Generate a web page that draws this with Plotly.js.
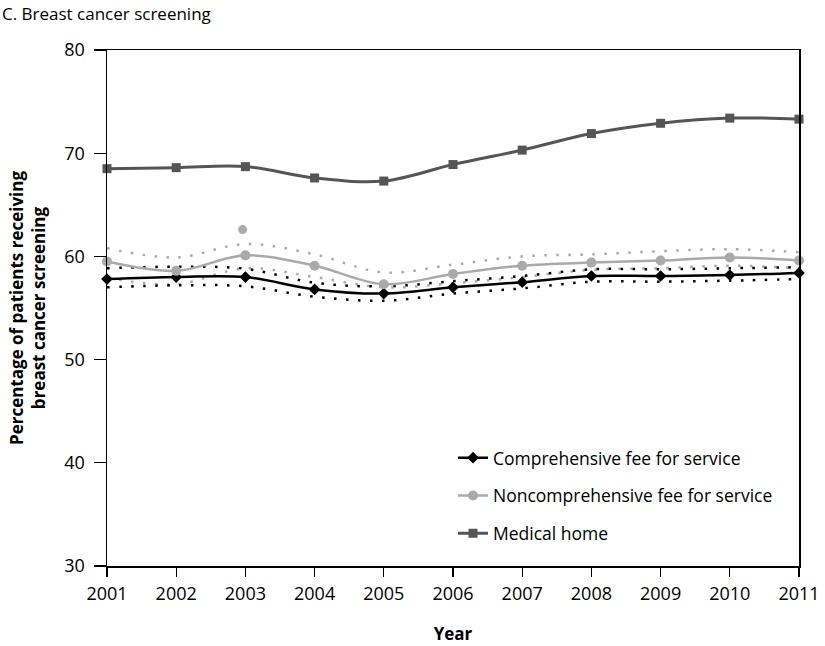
<!DOCTYPE html>
<html>
<head>
<meta charset="utf-8">
<script src="https://cdn.plot.ly/plotly-3.0.1.min.js"></script>
<style>
html,body{margin:0;padding:0;background:#fff;}
#chart{width:825px;height:646px;}
</style>
</head>
<body>
<div id="chart"></div>
<script>
// Data
var years = [2001, 2002, 2003, 2004, 2005, 2006, 2007, 2008, 2009, 2010, 2011];
var comprehensive = [57.8, 58.0, 58.0, 56.8, 56.4, 57.0, 57.5, 58.1, 58.1, 58.2, 58.4];
var comprehensiveUpper = [58.85, 59.0, 58.8, 57.45, 57.1, 57.6, 58.1, 58.75, 58.75, 58.85, 58.95];
var comprehensiveLower = [57.0, 57.2, 57.1, 56.1, 55.7, 56.4, 56.9, 57.55, 57.55, 57.65, 57.8];
var noncomprehensive = [59.5, 58.6, 60.1, 59.1, 57.3, 58.3, 59.1, 59.4, 59.6, 59.9, 59.6];
var noncomprehensiveUpper = [60.8, 59.9, 61.2, 60.2, 58.45, 59.2, 60.0, 60.2, 60.5, 60.7, 60.4];
var noncomprehensiveLower = [57.9, 57.3, 58.85, 58.0, 57.0, 57.4, 58.0, 58.7, 58.85, 59.1, 58.85];
var medicalHome = [68.5, 68.6, 68.7, 67.6, 67.3, 68.9, 70.3, 71.9, 72.9, 73.4, 73.3];
var outlierX = [2002.96];
var outlierY = [62.6];
var yTicks = [30, 40, 50, 60, 70, 80];

var font = "'Open Sans', 'Noto Sans', sans-serif";
var dotDash = "2.5px,9.5px";

var traces = [
  {x: years, y: noncomprehensiveUpper, mode: 'lines', line: {color: '#aaaaaa', width: 2.5, dash: dotDash, shape: 'spline'}, showlegend: false, hoverinfo: 'skip'},
  {x: years, y: noncomprehensiveLower, mode: 'lines', line: {color: '#aaaaaa', width: 2.5, dash: dotDash, shape: 'spline'}, showlegend: false, hoverinfo: 'skip'},
  {x: years, y: comprehensiveUpper, mode: 'lines', line: {color: '#000000', width: 2.5, dash: dotDash, shape: 'spline'}, showlegend: false, hoverinfo: 'skip'},
  {x: years, y: comprehensiveLower, mode: 'lines', line: {color: '#000000', width: 2.5, dash: dotDash, shape: 'spline'}, showlegend: false, hoverinfo: 'skip'},
  {x: years, y: comprehensive, name: 'Comprehensive fee for service', legendgroup: 'a', mode: 'lines+markers',
   line: {color: '#000000', width: 2.5, shape: 'spline'}, marker: {symbol: 'diamond', size: 9, color: '#000000'}, cliponaxis: false},
  {x: years, y: noncomprehensive, name: 'Noncomprehensive fee for service', legendgroup: 'b', mode: 'lines+markers',
   line: {color: '#aaaaaa', width: 2.5, shape: 'spline'}, marker: {symbol: 'circle', size: 10, color: '#aaaaaa'}, cliponaxis: false},
  {x: outlierX, y: outlierY, mode: 'markers', marker: {symbol: 'circle', size: 9, color: '#aaaaaa'}, showlegend: false, hoverinfo: 'skip'},
  {x: years, y: medicalHome, name: 'Medical home', legendgroup: 'c', mode: 'lines+markers',
   line: {color: '#555555', width: 3, shape: 'spline'}, marker: {symbol: 'square', size: 9, color: '#555555'}, cliponaxis: false}
];

var layout = {
  width: 825, height: 646,
  margin: {l: 107, r: 26, t: 50, b: 80},
  paper_bgcolor: '#ffffff', plot_bgcolor: '#ffffff',
  font: {family: font, size: 17, color: '#000000'},
  showlegend: true,
  legend: {x: 0.5, y: 0.136, xanchor: 'left', yanchor: 'middle', bgcolor: 'rgba(0,0,0,0)',
           font: {family: font, size: 17.5, color: '#000'}, tracegroupgap: 12, itemwidth: 30},
  annotations: [{text: 'C. Breast cancer screening', xref: 'paper', yref: 'paper', x: -0.155, y: 1.0, yshift: 37,
                 xanchor: 'left', yanchor: 'middle', showarrow: false, font: {family: font, size: 17, color: '#000'}}],
  xaxis: {
    range: [2001, 2011], tickmode: 'array', tickvals: years, ticktext: years.map(String),
    showgrid: false, zeroline: false, showline: true, linecolor: '#000', linewidth: 1.5, mirror: true,
    ticks: 'outside', ticklen: 9, tickwidth: 1.3, tickcolor: '#000', ticklabelstandoff: 2,
    tickfont: {family: font, size: 18, color: '#000'},
    title: {text: '<b>Year</b>', font: {family: font, size: 17, color: '#000'}, standoff: 24}
  },
  yaxis: {
    range: [30, 80], tickmode: 'array', tickvals: yTicks, ticktext: yTicks.map(String),
    showgrid: false, zeroline: false, showline: true, linecolor: '#000', linewidth: 1.5, mirror: true,
    ticks: 'outside', ticklen: 12, tickwidth: 1.3, tickcolor: '#000', ticklabelstandoff: 5,
    tickfont: {family: font, size: 18, color: '#000'},
    title: {text: '<b>Percentage of patients receiving<br>breast cancer screening</b>', font: {family: font, size: 17, color: '#000'}, standoff: 14}
  }
};

Plotly.newPlot('chart', traces, layout, {displayModeBar: false, staticPlot: true});
</script>
</body>
</html>
